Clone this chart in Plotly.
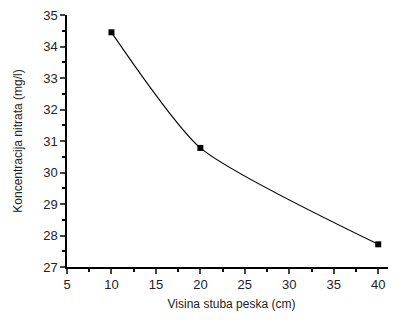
import plotly.graph_objects as go

heights = [10, 20, 40]
nitrate = [34.45, 30.78, 27.72]
x_ticks = [5, 10, 15, 20, 25, 30, 35, 40]
y_ticks = [27, 28, 29, 30, 31, 32, 33, 34, 35]

fig = go.Figure(go.Scatter(
    x=heights, y=nitrate, mode="lines+markers",
    line=dict(color="black", width=1.1, shape="spline", smoothing=0.6),
    marker=dict(symbol="square", size=6, color="black"),
    cliponaxis=False,
))

# page body has an 8px default margin; the figure is sized to fit the window
font = dict(family="Liberation Sans, Arial, sans-serif", size=13, color="#222")
fig.update_layout(
    width=388, height=319, margin=dict(l=59, r=0, t=7, b=60),
    paper_bgcolor="white", plot_bgcolor="white", showlegend=False, font=font,
)
fig.update_xaxes(
    range=[5, 42], tickvals=x_ticks, ticks="outside", ticklen=5, tickwidth=1.5,
    showline=True, linecolor="black", linewidth=1.5, showgrid=False, zeroline=False,
    minor=dict(dtick=2.5, ticks="outside", ticklen=3, tickcolor="black", tick0=5),
    title=dict(text="Visina stuba peska (cm)", font=dict(size=12), standoff=8),
    automargin=False, ticklabeloverflow="allow",
)
fig.update_yaxes(
    range=[27, 35], tickvals=y_ticks, ticks="outside", ticklen=5, tickwidth=1.5,
    showline=True, linecolor="black", linewidth=1.5, showgrid=False, zeroline=False,
    minor=dict(dtick=0.5, ticks="outside", ticklen=3, tickcolor="black"),
    title=dict(text="Koncentracija nitrata (mg/l)", font=dict(size=12), standoff=18),
    automargin=False, ticklabeloverflow="allow",
)
fig.write_html("out.html")
